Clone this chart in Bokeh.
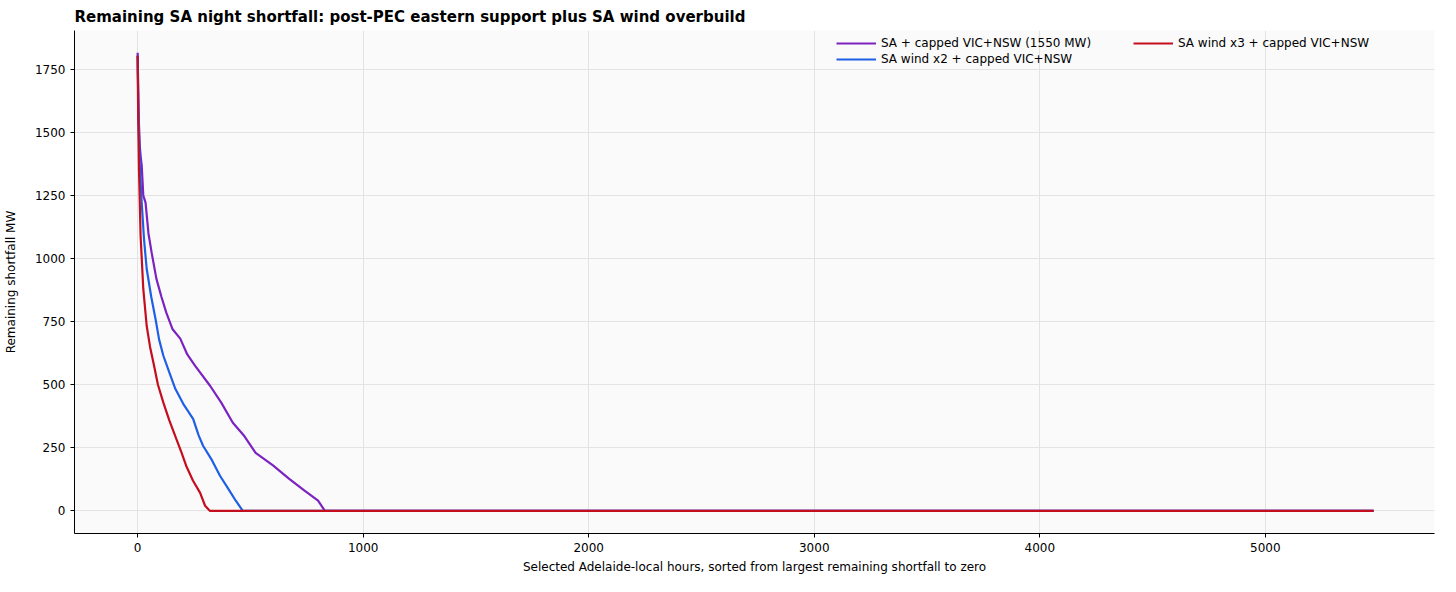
from bokeh.plotting import figure
from bokeh.models import Legend, LegendItem, Range1d, FixedTicker
from bokeh.embed import file_html
from bokeh.resources import INLINE

pur_x = [0, 2, 5, 10, 14, 18, 25, 35, 48, 62, 83, 105, 127, 155, 189, 220, 255, 321, 370, 422, 470, 523, 600, 672, 740, 800, 830, 5480]
pur_y = [1817, 1700, 1550, 1440, 1400, 1369, 1250, 1222, 1100, 1024, 921, 850, 786, 720, 683, 620, 575, 496, 430, 349, 300, 230, 180, 127, 80, 40, 0, 0]
blu_x = [0, 3, 8, 18, 28, 40, 60, 79, 95, 114, 140, 167, 205, 246, 270, 290, 330, 365, 400, 435, 466, 5480]
blu_y = [1805, 1600, 1400, 1222, 1080, 960, 850, 762, 680, 615, 550, 484, 420, 365, 300, 258, 200, 139, 90, 40, 0, 0]
red_x = [0, 2, 6, 13, 25, 40, 55, 70, 90, 114, 140, 171, 195, 215, 245, 277, 299, 320, 5480]
red_y = [1805, 1600, 1350, 1091, 880, 734, 650, 587, 500, 429, 360, 286, 230, 179, 120, 71, 20, 0, 0]

p = figure(width=1440, height=576, output_backend="svg", toolbar_location=None,
           x_range=Range1d(-280, 5750), y_range=Range1d(-90, 1905),
           title="Remaining SA night shortfall: post-PEC eastern support plus SA wind overbuild",
           min_border_left=64, min_border_right=6, min_border_top=12, min_border_bottom=40)
p.title.text_font = "DejaVu Sans"
p.title.text_font_size = "15px"
p.title.text_font_style = "bold"
p.title.text_color = "black"
p.title.offset = 0
p.background_fill_color = "#fafafa"
p.border_fill_color = "white"
p.outline_line_color = None
for ax in (p.xaxis[0], p.yaxis[0]):
    ax.major_label_text_font = "DejaVu Sans"
    ax.major_label_text_font_size = "12px"
    ax.major_label_text_color = "black"
    ax.axis_label_text_font = "DejaVu Sans"
    ax.axis_label_text_font_size = "12px"
    ax.axis_label_text_font_style = "normal"
    ax.axis_label_text_color = "black"
    ax.axis_line_color = "black"
    ax.major_tick_line_color = "black"
    ax.minor_tick_line_color = None
    ax.major_tick_out = 4
    ax.major_tick_in = 0
p.yaxis[0].axis_label_standoff = 14
p.xaxis.axis_label = "Selected Adelaide-local hours, sorted from largest remaining shortfall to zero"
p.yaxis.axis_label = "Remaining shortfall MW"
p.xaxis.ticker = FixedTicker(ticks=[0, 1000, 2000, 3000, 4000, 5000])
p.yaxis.ticker = FixedTicker(ticks=[0, 250, 500, 750, 1000, 1250, 1500, 1750])
p.grid.grid_line_color = "#e3e3e3"

r1 = p.line(pur_x, pur_y, line_color="#7B22C0", line_width=2.2)
r2 = p.line(blu_x, blu_y, line_color="#1F5FE6", line_width=2.2)
r3 = p.line(red_x, red_y, line_color="#C40E1E", line_width=2.2)

leg = Legend(items=[LegendItem(label="SA + capped VIC+NSW (1550 MW)", renderers=[r1]),
                    LegendItem(label="SA wind x2 + capped VIC+NSW", renderers=[r2]),
                    LegendItem(label="SA wind x3 + capped VIC+NSW", renderers=[r3])],
             location="top_right", ncols=2, background_fill_alpha=0, border_line_color=None,
             label_text_font="DejaVu Sans", label_text_font_size="12px", label_text_color="black",
             glyph_width=40, spacing=2, padding=4, margin=6, label_height=14, glyph_height=14,
             label_width=250)
p.add_layout(leg)

open("out.html", "w").write(file_html(p, INLINE))
